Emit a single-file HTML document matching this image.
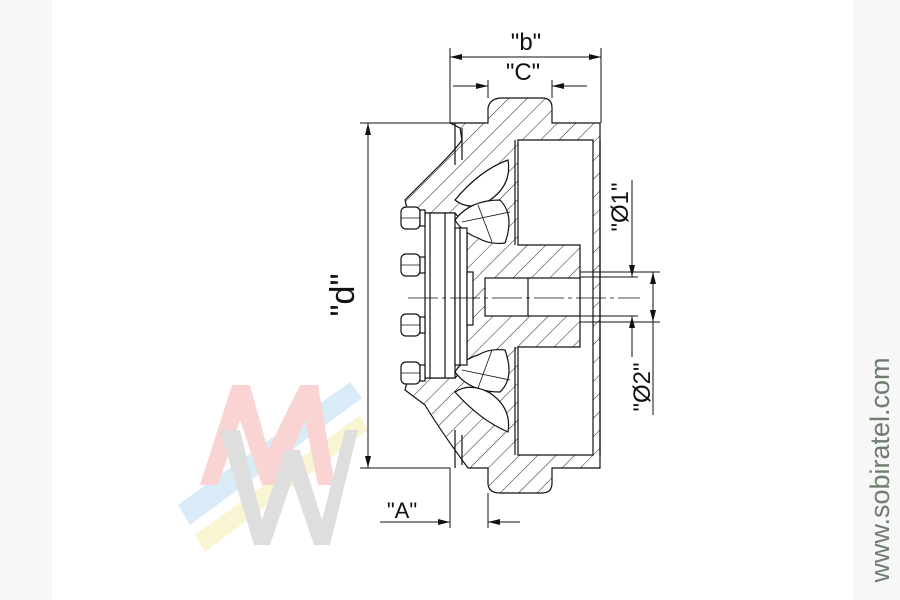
<!DOCTYPE html>
<html><head><meta charset="utf-8"><style>
html,body{margin:0;padding:0;background:#fff}
svg{display:block}
</style></head><body>
<svg width="900" height="600" viewBox="0 0 900 600" xmlns="http://www.w3.org/2000/svg">
<defs>
<pattern id="h" patternUnits="userSpaceOnUse" width="13" height="13" patternTransform="rotate(45)">
<rect width="13" height="13" fill="#fff"/><line x1="0" y1="0" x2="0" y2="13" stroke="#222" stroke-width="1"/>
</pattern>
<marker id="a" viewBox="0 0 12 6" refX="12" refY="3" markerWidth="12" markerHeight="6" orient="auto-start-reverse" markerUnits="userSpaceOnUse"><path d="M0,0 L12,3 L0,6 Z" fill="#111"/></marker>
</defs>
<rect x="0" y="0" width="52" height="600" fill="#f7f7f7"/>
<rect x="853" y="0" width="47" height="600" fill="#f7f7f7"/>
<!-- logo -->
<g opacity="0.45">
<polygon points="178,505 350,382 362,398 190,525" fill="#a9d4ec"/>
<polygon points="195,535 360,415 368,430 205,552" fill="#f2eaa0"/>
<path d="M200,485 L232,385 L250,385 L268,450 L300,385 L318,385 L335,485 L318,485 L305,420 L278,485 L262,485 L240,420 L218,485 Z" fill="#f4a0a0"/>
<path d="M220,430 L240,430 L262,520 L285,450 L300,450 L322,520 L345,430 L358,430 L330,545 L314,545 L292,480 L270,545 L254,545 Z" fill="#b8b8b8"/>
</g>
<text transform="translate(889,470) rotate(-90)" text-anchor="middle" font-family="Liberation Sans, sans-serif" font-size="27" fill="#6c7d6c">www.sobiratel.com</text>

<g stroke="#111" stroke-width="1.2" fill="none">
<!-- body -->
<path d="M488,123 L488,108 Q490,98 502,98 L542,98 Q552,98 552,108 L552,123 L600,123 L600,468 L552,468 L552,483 Q552,493 542,493 L500,493 Q488,493 488,483 L488,468 L468,468 Q440,430 425,405 L405,390 L408,378 L455,378 L467,365 L467,228 L455,213 L408,213 L405,200 Q425,180 440,165 Q455,150 462,140 L460,128 L450,123 Z" fill="url(#h)"/>
<!-- bore and hub -->
<path d="M518,140 L593,140 L593,455 L518,455 L518,347 L580,347 L580,245 L518,245 Z" fill="#fff"/>
<line x1="600" y1="140" x2="600" y2="455"/>
<rect x="485" y="278" width="95" height="38" fill="#fff"/>
<line x1="528" y1="278" x2="528" y2="316"/>
<line x1="515" y1="140" x2="515" y2="245"/><line x1="515" y1="347" x2="515" y2="455"/>
<!-- petals -->
<path d="M455,200 Q480,170 508,160 Q512,185 490,200 Q470,212 455,200 Z" fill="#fff"/>
<path d="M455,220 Q470,200 500,200 Q515,215 505,243 Q490,245 478,238 Q462,232 455,220 Z" fill="#fff"/>
<path d="M478,205 L492,242 M462,222 L510,212" stroke-width="0.8"/>
<path d="M455,372 Q470,392 500,392 Q515,378 505,350 Q490,348 478,355 Q462,360 455,372 Z" fill="#fff"/>
<path d="M455,392 Q480,420 508,432 Q512,408 490,393 Q470,382 455,392 Z" fill="#fff"/>
<path d="M478,388 L492,350 M462,370 L510,380" stroke-width="0.8"/>
<!-- left flange lines -->
<line x1="455" y1="123" x2="455" y2="165"/><line x1="462" y1="128" x2="462" y2="160"/>
<line x1="455" y1="430" x2="455" y2="468"/><line x1="462" y1="435" x2="462" y2="465"/>
<!-- front plates -->
<rect x="425" y="213" width="30" height="165" fill="#fff"/>
<line x1="430" y1="213" x2="430" y2="378"/><line x1="445" y1="213" x2="445" y2="378"/>
<rect x="455" y="228" width="12" height="137" fill="#fff"/>
<line x1="460" y1="228" x2="460" y2="365"/>
<rect x="467" y="272" width="6" height="53" fill="#fff"/>
<!-- bolts -->
<g fill="#fff">
<rect x="401" y="207" width="19" height="22" rx="5"/><rect x="420" y="210" width="5" height="16"/>
<rect x="401" y="254" width="19" height="22" rx="5"/><rect x="420" y="257" width="5" height="16"/>
<rect x="401" y="314" width="19" height="22" rx="5"/><rect x="420" y="317" width="5" height="16"/>
<rect x="401" y="362" width="19" height="22" rx="5"/><rect x="420" y="365" width="5" height="16"/>
</g>
<line x1="401" y1="218" x2="420" y2="218" stroke-width="0.8"/><line x1="401" y1="265" x2="420" y2="265" stroke-width="0.8"/>
<line x1="401" y1="325" x2="420" y2="325" stroke-width="0.8"/><line x1="401" y1="373" x2="420" y2="373" stroke-width="0.8"/>
<!-- centerline -->
<line x1="408" y1="298" x2="640" y2="298" stroke-width="0.8" stroke-dasharray="30,4,4,4"/>

<!-- dimensions -->
<g stroke-width="1">
<line x1="450" y1="48" x2="450" y2="123"/><line x1="601" y1="48" x2="601" y2="123"/>
<line x1="450" y1="57" x2="601" y2="57" marker-start="url(#a)" marker-end="url(#a)"/>
<line x1="488" y1="80" x2="488" y2="98"/><line x1="552" y1="80" x2="552" y2="98"/>
<line x1="453" y1="86" x2="488" y2="86" marker-end="url(#a)"/>
<line x1="587" y1="86" x2="552" y2="86" marker-end="url(#a)"/>
<line x1="360" y1="123" x2="450" y2="123"/><line x1="360" y1="468" x2="450" y2="468"/>
<line x1="368" y1="123" x2="368" y2="468" marker-start="url(#a)" marker-end="url(#a)"/>
<line x1="580" y1="272" x2="660" y2="272"/><line x1="580" y1="277" x2="638" y2="277"/>
<line x1="580" y1="316" x2="638" y2="316"/><line x1="580" y1="322" x2="660" y2="322"/>
<line x1="632" y1="180" x2="632" y2="277" marker-end="url(#a)"/>
<line x1="632" y1="357" x2="632" y2="316" marker-end="url(#a)"/>
<line x1="653" y1="298" x2="653" y2="272" marker-end="url(#a)"/>
<line x1="653" y1="298" x2="653" y2="322" marker-end="url(#a)"/>
<line x1="653" y1="322" x2="653" y2="415"/>
<line x1="450" y1="468" x2="450" y2="528"/><line x1="488" y1="493" x2="488" y2="528"/>
<line x1="380" y1="522" x2="450" y2="522" marker-end="url(#a)"/>
<line x1="520" y1="522" x2="488" y2="522" marker-end="url(#a)"/>
</g>
</g>
<g font-family="Liberation Sans, sans-serif" fill="#111" font-size="24" text-anchor="middle">
<text x="526" y="50">"b"</text>
<text x="523" y="80">"C"</text>
<text x="402" y="518" font-size="22">"A"</text>
<text transform="translate(354,295) rotate(-90)" font-size="34">"d"</text>
<text transform="translate(628,207) rotate(-90)">"Ø1"</text>
<text transform="translate(650,387) rotate(-90)">"Ø2"</text>
</g>
</svg>
</body></html>
